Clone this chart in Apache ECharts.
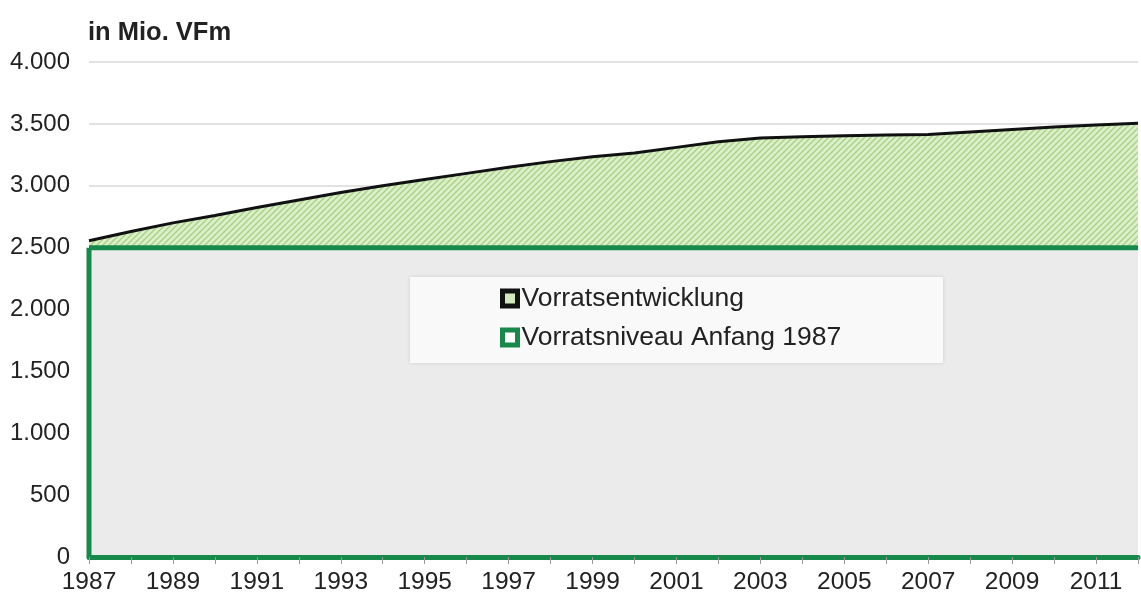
<!DOCTYPE html>
<html>
<head>
<meta charset="utf-8">
<script src="https://cdn.jsdelivr.net/npm/echarts@6/dist/echarts.min.js"></script>
<style>html,body{margin:0;padding:0;background:#fff}#c{width:1141px;height:611px}</style>
</head>
<body>
<div id="c"></div>
<script>
const years = [1987,1988,1989,1990,1991,1992,1993,1994,1995,1996,1997,1998,1999,2000,2001,2002,2003,2004,2005,2006,2007,2008,2009,2010,2011,2012];
const vorratsentwicklung = [2555,2630,2700,2760,2825,2885,2945,3000,3050,3100,3150,3195,3235,3265,3310,3355,3385,3395,3405,3410,3415,3435,3455,3475,3490,3505];
const vorratsniveau1987 = [2500,2500,2500,2500,2500,2500,2500,2500,2500,2500,2500,2500,2500,2500,2500,2500,2500,2500,2500,2500,2500,2500,2500,2500,2500,2500];
const yTicks = [0,500,1000,1500,2000,2500,3000,3500,4000];
const seriesNames = ['Vorratsentwicklung','Vorratsniveau Anfang 1987'];
const unitLabel = 'in Mio. VFm';

const GREEN = '#17894a';
const FONT = '"Liberation Sans", Arial, sans-serif';

// hatch pattern
const pc = document.createElement('canvas');
pc.width = 6; pc.height = 6;
const g = pc.getContext('2d');
g.fillStyle = '#dcefc8';
g.fillRect(0,0,6,6);
g.strokeStyle = '#a5d086';
g.lineWidth = 1.3;
g.beginPath();
g.moveTo(0,6); g.lineTo(6,0);
g.moveTo(-3,3); g.lineTo(3,-3);
g.moveTo(3,9); g.lineTo(9,3);
g.stroke();

const chart = echarts.init(document.getElementById('c'), null, {renderer:'canvas'});
chart.setOption({
  animation:false,
  backgroundColor:'#ffffff',
  title:{text:unitLabel,left:83,top:15,textStyle:{fontFamily:FONT,fontWeight:'bold',fontSize:25.5,color:'#222'}},
  grid:{left:89,right:-3,top:62,bottom:54},
  graphic:[{type:'rect',left:410,top:277,shape:{width:533,height:86},
    style:{fill:'#f9f9f9',shadowBlur:4,shadowColor:'rgba(0,0,0,0.12)'},z:50}],
  legend:{orient:'vertical',left:495,top:280,itemWidth:15,itemHeight:15,itemGap:12,icon:'rect',z:60,
    textStyle:{fontFamily:FONT,fontSize:26.5,color:'#222',padding:[0,0,0,-1]},
    data:[
      {name:seriesNames[0],itemStyle:{color:'#d2e8bd',borderColor:'#111',borderWidth:5}},
      {name:seriesNames[1],itemStyle:{color:'#ffffff',borderColor:GREEN,borderWidth:5}}
    ]},
  xAxis:{type:'value',min:years[0],max:years[years.length-1],interval:1,z:10,
    axisLine:{show:true,lineStyle:{color:GREEN,width:5}},
    axisTick:{show:true,length:7,lineStyle:{color:'#999',width:1}},
    splitLine:{show:false},
    axisLabel:{margin:13,fontFamily:FONT,fontSize:24.5,color:'#222',
      formatter:v=> (v%2===1 && v<2012) ? String(v) : ''}},
  yAxis:{type:'value',min:yTicks[0],max:yTicks[yTicks.length-1],interval:500,
    axisLine:{show:false},axisTick:{show:false},
    splitLine:{lineStyle:{color:'#d9d9d9',width:1.5}},
    axisLabel:{margin:19,fontFamily:FONT,fontSize:24,color:'#222',
      formatter:v=>v.toLocaleString('de-DE')}},
  series:[
    {name:seriesNames[0],type:'line',symbol:'none',data:years.map((y,i)=>[y,vorratsentwicklung[i]]),
      lineStyle:{color:'#111',width:3},itemStyle:{color:'#111'},
      areaStyle:{color:{image:pc,repeat:'repeat'},opacity:1},z:2},
    {name:seriesNames[1],type:'line',symbol:'none',data:years.map((y,i)=>[y,vorratsniveau1987[i]]),
      lineStyle:{color:GREEN,width:5},itemStyle:{color:GREEN},
      areaStyle:{color:'#ebebeb',opacity:1},z:3},
    {name:'rand',type:'line',symbol:'none',silent:true,clip:false,z:4,
      data:[[years[0],0],[years[0],vorratsniveau1987[0]]],
      lineStyle:{color:GREEN,width:5},itemStyle:{color:GREEN}}
  ]
});
</script>
</body>
</html>
